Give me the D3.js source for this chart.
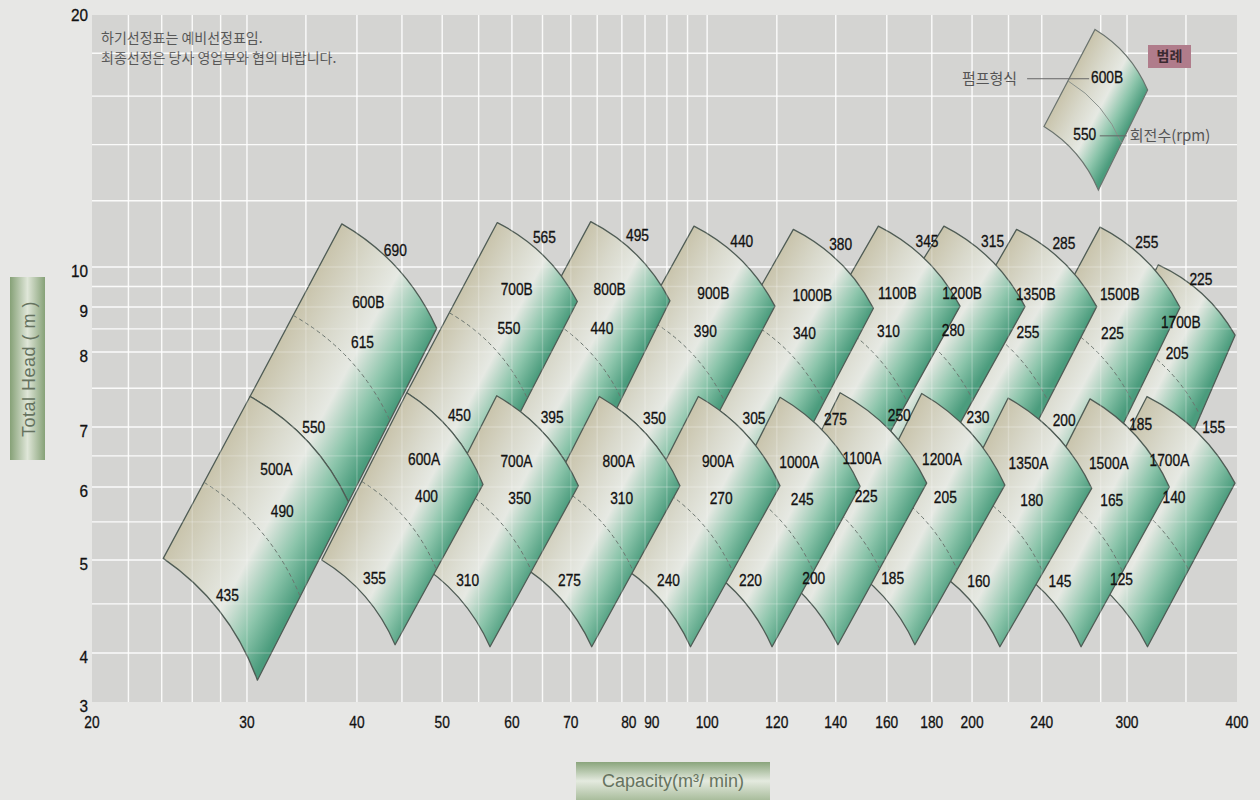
<!DOCTYPE html>
<html>
<head>
<meta charset="utf-8">
<script src="https://cdn.jsdelivr.net/npm/d3@7"></script>
<style>
  body { margin: 0; background: #e6e6e4; }
</style>
</head>
<body>
<div id="chart"></div>
<script>
// ---- values ----
const xTicks = [20, 30, 40, 50, 60, 70, 80, 90, 100, 120, 140, 160, 180, 200, 240, 300, 400];
const yTicks = [3, 4, 5, 6, 7, 8, 9, 10, 20];
const xGrid = [22, 24, 26, 28, 30, 35, 40, 45, 50, 55, 60, 65, 70, 75, 80, 85, 90, 95, 100, 120, 140, 160, 180, 200, 220, 240, 280, 300, 350];
const yGrid = [4, 4.5, 5, 5.5, 6, 6.5, 7, 7.5, 8, 8.5, 9, 9.5, 10, 12, 14, 16, 18];

// every band = an upper "B" pump stacked on a lower "A" pump
const upperModels = ["600B", "700B", "800B", "900B", "1000B", "1100B", "1200B", "1350B", "1500B", "1700B"];
const lowerModels = ["500A", "600A", "700A", "800A", "900A", "1000A", "1100A", "1200A", "1350A", "1500A", "1700A"];

// rpm printed on the curves [top, middle, bottom]
const upperRpm = [[690, 615, 550], [565, 550, 450], [495, 440, 395], [440, 390, 350], [380, 340, 305],
                  [345, 310, 275], [315, 280, 250], [285, 255, 230], [255, 225, 200], [225, 205, 185]];
// lower tiles share their top curve with the B tile above, only 1700A prints its own
const lowerRpm = [[null, 490, 435], [null, 400, 355], [null, 350, 310], [null, 310, 275], [null, 270, 240],
                  [null, 245, 220], [null, 225, 200], [null, 205, 185], [null, 180, 160], [null, 165, 145], [155, 140, 125]];

// corner points [capacity m3/min, head m]
const upperTop = [[38.45, 11.26], [57.75, 11.30], [73.74, 11.33], [96.62, 11.19], [125.3, 11.09],
                  [156.5, 11.19], [185.8, 11.19], [224.7, 11.09], [279.5, 11.16], [325.6, 10.06]];
const upperRight = [[49.28, 8.51], [71.2, 9.13], [90.73, 9.15], [119.4, 9.02], [154.5, 8.97],
                    [193.8, 9.02], [229.7, 9.01], [277.1, 9.01], [344.6, 8.99], [398, 8.36]];
const seamLeft = [[30.24, 7.39], [45.57, 7.44], [57.66, 7.40], [75.42, 7.39], [97.72, 7.39], [121.0, 7.38],
                  [141.6, 7.44], [175.3, 7.43], [219.8, 7.37], [272.3, 7.36], [316.1, 7.39]];
const seamRight = [[39.12, 5.78], [55.63, 6.04], [71.39, 6.02], [93.13, 6.02], [121.0, 6.02], [149.2, 6.01],
                   [177.6, 6.06], [217.9, 6.03], [273.5, 5.98], [335.1, 6.00], [397.9, 6.06]];
const lowerLeft = [[24.1, 5.02], [36.48, 5.00], [46.33, 5.00], [60.49, 4.98], [78.38, 4.98], [97.39, 4.98],
                   [114.0, 5.00], [140.8, 5.00], [176.8, 4.96], [219.1, 4.96], [253.7, 5.00]];
const lowerBottom = [[30.83, 3.41], [44.2, 4.08], [56.66, 4.06], [73.93, 4.06], [95.74, 4.06], [118.5, 4.06],
                     [140.8, 4.08], [172.2, 4.08], [215.1, 4.06], [266.0, 4.06], [316.5, 4.06]];

// legend sample tile (top, right, bottom, left)
const legendCorners = [[275.9, 19.22], [316.6, 16.27], [278.3, 12.36], [241.4, 14.72]];
const legendModel = "600B";
const legendRpm = 550;

const notes = ["하기선정표는 예비선정표임.", "최종선정은 당사 영업부와 협의 바랍니다."];

// ---- drawing ----
const W = 1260, H = 800;
const NUM_FONT = "'Liberation Sans', Arial, sans-serif";

const svg = d3.select("#chart").append("svg")
    .attr("width", W)
    .attr("height", H)
    .style("display", "block");

// printed axis is log but not evenly spaced, so the head scale is piecewise
const x = d3.scaleLog().domain([20, 400]).range([92, 1237]);
const y = d3.scaleLog().domain(yTicks).range([702, 653, 560, 487, 427, 352, 307, 267, 15]);

const defs = svg.append("defs");

svg.append("rect").attr("width", W).attr("height", H).attr("fill", "#e7e7e5");

// plot area
svg.append("rect")
    .attr("x", x(20)).attr("y", y(20))
    .attr("width", x(400) - x(20)).attr("height", y(3) - y(20))
    .attr("fill", "#d4d4d2");

function drawGrid(g, opacity) {
    g.selectAll(".vx").data(xGrid).enter().append("line")
        .attr("x1", d => x(d)).attr("x2", d => x(d))
        .attr("y1", y(20)).attr("y2", y(3))
        .attr("stroke", "#fff").attr("stroke-opacity", opacity).attr("stroke-width", 1.4);
    g.selectAll(".hy").data(yGrid).enter().append("line")
        .attr("y1", d => y(d)).attr("y2", d => y(d))
        .attr("x1", x(20)).attr("x2", x(400))
        .attr("stroke", "#fff").attr("stroke-opacity", opacity).attr("stroke-width", 1.4);
}
drawGrid(svg.append("g"), 0.85);

// condensed numerals like the printed chart
function numText(sel, size) {
    return sel
        .attr("x", 0).attr("y", 0)
        .attr("dy", "0.35em")
        .style("font-family", NUM_FONT)
        .style("font-size", size + "px")
        .attr("fill", "#111")
        .attr("stroke", "#111")
        .attr("stroke-width", 0.3);
}

// notes
svg.append("g").selectAll("text").data(notes).enter().append("text")
    .attr("x", 101)
    .attr("y", (d, i) => 38 + i * 20)
    .attr("dy", "0.35em")
    .style("font-family", "'Noto Sans CJK KR', sans-serif")
    .style("font-size", "14px")
    .attr("fill", "#575757")
    .text(d => d);

// axis labels
numText(svg.append("g").selectAll("text").data(xTicks).enter().append("text"), 16)
    .attr("transform", d => "translate(" + (x(d) + (d === 80 ? 7 : d === 90 ? -15 : 0)) + ",722) scale(0.86,1)")
    .attr("text-anchor", "middle")
    .text(d => d);

numText(svg.append("g").selectAll("text").data(yTicks).enter().append("text"), 17)
    .attr("transform", d => "translate(88," + (y(d) + (d === 20 ? 0 : 4)) + ") scale(0.9,1)")
    .attr("text-anchor", "end")
    .text(d => d);

// axis title boxes
const gv = defs.append("linearGradient").attr("id", "titleV").attr("x1", 0).attr("x2", 1).attr("y1", 0).attr("y2", 0);
gv.append("stop").attr("offset", 0).attr("stop-color", "#86a177");
gv.append("stop").attr("offset", 0.5).attr("stop-color", "#dfe6d8");
gv.append("stop").attr("offset", 1).attr("stop-color", "#86a177");
const gh = defs.append("linearGradient").attr("id", "titleH").attr("x1", 0).attr("x2", 0).attr("y1", 0).attr("y2", 1);
gh.append("stop").attr("offset", 0).attr("stop-color", "#8aa57c");
gh.append("stop").attr("offset", 0.5).attr("stop-color", "#e4eadf");
gh.append("stop").attr("offset", 1).attr("stop-color", "#a9bd9c");

svg.append("rect").attr("x", 10).attr("y", 277).attr("width", 35).attr("height", 183).attr("fill", "url(#titleV)");
svg.append("text")
    .attr("transform", "translate(29,369) rotate(-90)")
    .attr("text-anchor", "middle")
    .attr("dy", "0.35em")
    .style("font-family", "'Liberation Sans', Arial, sans-serif")
    .style("font-size", "18px")
    .style("letter-spacing", "0.5px")
    .attr("fill", "#66735f")
    .text("Total Head ( m )");

svg.append("rect").attr("x", 576).attr("y", 762).attr("width", 194).attr("height", 38).attr("fill", "url(#titleH)");
svg.append("text")
    .attr("x", 673).attr("y", 781)
    .attr("dy", "0.35em")
    .attr("text-anchor", "middle")
    .style("font-family", "'Liberation Sans', Arial, sans-serif")
    .style("font-size", "18px")
    .attr("fill", "#66735f")
    .text("Capacity(m³/ min)");

// ---- tiles ----
const pt = d => [x(d[0]), y(d[1])];
const lerp = (a, b, t) => [a[0] + (b[0] - a[0]) * t, a[1] + (b[1] - a[1]) * t];
const BULGE = 0.16;
function ctrl(a, b) {
    // control point that bows the curve up and to the right
    return [(a[0] + b[0]) / 2 + BULGE * (b[1] - a[1]), (a[1] + b[1]) / 2 - BULGE * (b[0] - a[0])];
}
function tilePath(t) {
    const p = d3.path();
    p.moveTo(t.tl[0], t.tl[1]);
    let c = ctrl(t.tl, t.tr);
    p.quadraticCurveTo(c[0], c[1], t.tr[0], t.tr[1]);
    p.lineTo(t.br[0], t.br[1]);
    c = ctrl(t.bl, t.br);
    p.quadraticCurveTo(c[0], c[1], t.bl[0], t.bl[1]);
    p.closePath();
    return p.toString();
}
function midPath(t, f) {
    const a = lerp(t.tl, t.bl, f), b = lerp(t.tr, t.br, f);
    const c = ctrl(a, b);
    const p = d3.path();
    p.moveTo(a[0], a[1]);
    p.quadraticCurveTo(c[0], c[1], b[0], b[1]);
    return p.toString();
}
function bil(t, u, v) {
    return lerp(lerp(t.tl, t.tr, u), lerp(t.bl, t.br, u), v);
}
function addGradient(id, t) {
    const ex = t.bl[0] - t.tl[0], ey = t.bl[1] - t.tl[1];
    const len = Math.hypot(ex, ey);
    const nx = ey / len, ny = -ex / len;
    const w = (t.tr[0] - t.tl[0]) * nx + (t.tr[1] - t.tl[1]) * ny;
    const g = defs.append("linearGradient").attr("id", id)
        .attr("gradientUnits", "userSpaceOnUse")
        .attr("x1", t.tl[0]).attr("y1", t.tl[1])
        .attr("x2", t.tl[0] + nx * w).attr("y2", t.tl[1] + ny * w);
    [[0, "#c9c4ac"], [0.3, "#d9d9cc"], [0.55, "#e6e9e3"], [0.8, "#8cc5ab"], [1, "#4b9c7d"]].forEach(s =>
        g.append("stop").attr("offset", s[0]).attr("stop-color", s[1]));
}

const tiles = [];
upperModels.forEach((m, i) => tiles.push({
    id: "tB" + i, kind: "B", name: m, rpm: upperRpm[i],
    tl: pt(upperTop[i]), tr: pt(upperRight[i]), br: pt(seamRight[i]), bl: pt(seamLeft[i])
}));
lowerModels.forEach((m, i) => tiles.push({
    id: "tA" + i, kind: "A", name: m, rpm: lowerRpm[i],
    tl: pt(seamLeft[i]), tr: pt(seamRight[i]), br: pt(lowerBottom[i]), bl: pt(lowerLeft[i])
}));

// B tiles under A tiles, left bands on top of right bands
const drawOrder = tiles.filter(t => t.kind === "B").reverse()
    .concat(tiles.filter(t => t.kind === "A").reverse());
drawOrder.forEach(t => addGradient("g_" + t.id, t));

const tileG = svg.append("g");
const tg = tileG.selectAll("g").data(drawOrder).enter().append("g");
tg.append("path")
    .attr("d", tilePath)
    .attr("fill", d => "url(#g_" + d.id + ")")
    .attr("stroke", "#4f5c55")
    .attr("stroke-width", 1.3)
    .attr("stroke-linejoin", "round");
tg.append("path")
    .attr("d", d => midPath(d, 0.53))
    .attr("fill", "none")
    .attr("stroke", "#6a746e")
    .attr("stroke-width", 1)
    .attr("stroke-dasharray", "4,3");

// the grid shows faintly through the tiles
drawGrid(svg.append("g"), 0.22);

// tile labels
const slots = {
    B: { top: [0.45, -0.12], name: [0.45, 0.18], mid: [0.55, 0.35], bot: [0.52, 0.86] },
    A: { top: [0.62, -0.14], name: [0.42, 0.17], mid: [0.6, 0.3], bot: [0.53, 0.84] }
};
const labels = [];
tiles.forEach(t => {
    const s = slots[t.kind];
    labels.push({ p: bil(t, ...s.name), text: t.name });
    if (t.rpm[0] != null) labels.push({ p: bil(t, ...s.top), text: t.rpm[0] });
    labels.push({ p: bil(t, ...s.mid), text: t.rpm[1] });
    labels.push({ p: bil(t, ...s.bot), text: t.rpm[2] });
});
numText(svg.append("g").selectAll("text").data(labels).enter().append("text"), 16)
    .attr("transform", d => "translate(" + d.p[0] + "," + d.p[1] + ") scale(0.86,1)")
    .attr("text-anchor", "middle")
    .text(d => d.text);

// ---- legend ----
const lg = {
    id: "legend",
    tl: pt(legendCorners[0]), tr: pt(legendCorners[1]), br: pt(legendCorners[2]), bl: pt(legendCorners[3])
};
addGradient("g_legend", lg);
svg.append("path").attr("d", tilePath(lg))
    .attr("fill", "url(#g_legend)")
    .attr("stroke", "#6a736e").attr("stroke-width", 1.2);
svg.append("path").attr("d", midPath(lg, 0.53))
    .attr("fill", "none").attr("stroke", "#8a928d").attr("stroke-width", 1);

const lm = bil(lg, 0.44, 0.22), lr = bil(lg, 0.52, 0.75);
numText(svg.append("text"), 16)
    .attr("transform", "translate(" + lm[0] + "," + lm[1] + ") scale(0.86,1)")
    .attr("text-anchor", "middle").text(legendModel);
numText(svg.append("text"), 16)
    .attr("transform", "translate(" + lr[0] + "," + lr[1] + ") scale(0.86,1)")
    .attr("text-anchor", "middle").text(legendRpm);

svg.append("line").attr("x1", lm[0] - 80).attr("x2", lm[0] - 18).attr("y1", lm[1] + 1).attr("y2", lm[1] + 1)
    .attr("stroke", "#666").attr("stroke-width", 1);
svg.append("text").attr("x", lm[0] - 90).attr("y", lm[1] + 1).attr("dy", "0.35em").attr("text-anchor", "end")
    .style("font-family", "'Noto Sans CJK KR', sans-serif").style("font-size", "15px").attr("fill", "#555")
    .text("펌프형식");
svg.append("line").attr("x1", lr[0] + 15).attr("x2", lr[0] + 42).attr("y1", lr[1] + 1).attr("y2", lr[1] + 1)
    .attr("stroke", "#666").attr("stroke-width", 1);
svg.append("text").attr("x", lr[0] + 45).attr("y", lr[1] + 1).attr("dy", "0.35em")
    .style("font-family", "'Noto Sans CJK KR', sans-serif").style("font-size", "15px").attr("fill", "#555")
    .text("회전수(rpm)");

svg.append("rect").attr("x", 1148).attr("y", 45).attr("width", 43).attr("height", 23).attr("fill", "#b07c8b");
svg.append("text").attr("x", 1169.5).attr("y", 56.5).attr("dy", "0.35em").attr("text-anchor", "middle")
    .style("font-family", "'Noto Sans CJK KR', sans-serif").style("font-size", "14px").style("font-weight", "700")
    .attr("fill", "#3b2a30").text("범례");
</script>
</body>
</html>
